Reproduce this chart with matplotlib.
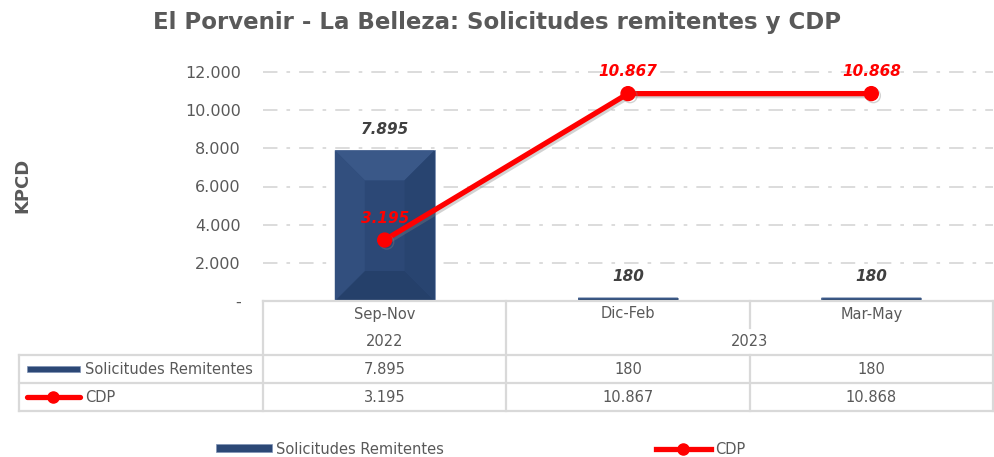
import numpy as np
import matplotlib
matplotlib.use("Agg")
import matplotlib.pyplot as plt
import matplotlib.patheffects as pe
from matplotlib.patches import Polygon, Rectangle
from matplotlib.lines import Line2D
from matplotlib.transforms import blended_transform_factory

# data
categories = ["Sep-Nov", "Dic-Feb", "Mar-May"]
years = ["2022", "2023"]
year_span = [(0, 0), (1, 2)]
solicitudes = [7895, 180, 180]
cdp = [3195, 10867, 10868]
yticks = [0, 2000, 4000, 6000, 8000, 10000, 12000]

W, H = 994, 457
gray = "#595959"
grid_c = "#D9D9D9"
navy = "#2C4876"
red = "#FF0000"

def fmt(v):
    return "-" if v == 0 else f"{v:,}".replace(",", ".")

def fx(px):
    return px / W

def fy(py):
    return 1 - py / H

plt.rcParams["font.family"] = ["DejaVu Sans"]
fig = plt.figure(figsize=(W / 100, H / 100), dpi=100)

# plot area: x 263..993 px, y 40..301 px
ax = fig.add_axes([fx(263), fy(301), fx(993 - 263), (301 - 40) / H])
ax.set_xlim(-0.5, 2.5)
ytop = 12000 * (301 - 40) / (301 - 72)
ax.set_ylim(0, ytop)
ax.set_yticks(yticks)
ax.set_yticklabels([fmt(v) for v in yticks], color=gray, fontsize=11.5)
ax.tick_params(axis="y", length=0, pad=16)
ax.set_xticks([])
for s in ax.spines.values():
    s.set_visible(False)
ax.grid(axis="y", color=grid_c, linestyle=(0, (8, 5, 2, 5)), linewidth=1.3)
ax.set_axisbelow(True)

x = np.arange(len(categories))
bw = 0.41

# bars with a soft bevel
dx = 3.0 / (993 - 263)          # data units per pixel
dy = ytop / (301 - 40)
ax.bar(x, solicitudes, width=bw, color=navy, edgecolor="#7F93B5",
       linewidth=0.6, zorder=2)
for xi, h in zip(x, solicitudes):
    l, r = xi - bw / 2, xi + bw / 2
    d = min(30, h / dy / 2)
    ddx, ddy = d * dx, d * dy
    ax.add_patch(Polygon([(l, h), (r, h), (r - ddx, h - ddy), (l + ddx, h - ddy)],
                         closed=True, color="#3A5888", lw=0, zorder=2.1))
    ax.add_patch(Polygon([(l, 0), (r, 0), (r - ddx, ddy), (l + ddx, ddy)],
                         closed=True, color="#25406A", lw=0, zorder=2.1))
    ax.add_patch(Polygon([(r, 0), (r, h), (r - ddx, h - ddy), (r - ddx, ddy)],
                         closed=True, color="#284470", lw=0, zorder=2.1))
    ax.add_patch(Polygon([(l, 0), (l, h), (l + ddx, h - ddy), (l + ddx, ddy)],
                         closed=True, color="#324F7E", lw=0, zorder=2.1))
    ax.annotate(fmt(h), (xi, h), xytext=(0, 21), textcoords="offset pixels",
                ha="center", va="center", fontsize=11, fontweight="bold",
                fontstyle="italic", color="#404040", zorder=5)

# CDP line
ax.plot(x, cdp, color=red, linewidth=3.8, marker="o", markersize=10,
        zorder=4, solid_capstyle="round",
        path_effects=[pe.SimpleLineShadow(offset=(1.5, -1.5), shadow_color="gray", alpha=0.35),
                      pe.Normal()])
for xi, v in zip(x, cdp):
    ax.annotate(fmt(v), (xi, v), xytext=(0, 22), textcoords="offset pixels",
                ha="center", va="center", fontsize=11, fontweight="bold",
                fontstyle="italic", color=red, zorder=5)

# title and axis label
fig.text(0.5, fy(22), "El Porvenir - La Belleza: Solicitudes remitentes y CDP",
         ha="center", va="center", fontsize=16.5, fontweight="bold", color=gray)
fig.text(fx(22), fy(185), "KPCD", rotation=90, ha="center", va="center",
         fontsize=13, fontweight="bold", color=gray)

# data table drawn under the axes
tr = blended_transform_factory(ax.transData, fig.transFigure)
bounds = [-0.5, 0.5, 1.5, 2.5]
y_top, y_mid, y_hdr, y_r1, y_bot = fy(301), fy(328), fy(355), fy(383), fy(411)

def hline(x0, x1, y, trans):
    fig.add_artist(Line2D([x0, x1], [y, y], transform=trans, color=grid_c, lw=1.6))

def vline(xv, y0, y1, trans):
    fig.add_artist(Line2D([xv, xv], [y0, y1], transform=trans, color=grid_c, lw=1.6))

hline(-0.5, 2.5, y_top, tr)
hline(fx(19), fx(993), y_hdr, fig.transFigure)
hline(fx(19), fx(993), y_r1, fig.transFigure)
hline(fx(19), fx(993), y_bot, fig.transFigure)
vline(fx(19), y_hdr, y_bot, fig.transFigure)
vline(fx(993), y_top, y_bot, fig.transFigure)
for b in bounds[:-1]:
    starts_year = any(b == s - 0.5 for s, _ in year_span)
    vline(b, y_top if starts_year else y_hdr, y_bot, tr)
    if not starts_year:
        vline(b, y_top, y_mid, tr)

for xi, c in zip(x, categories):
    fig.text(xi, fy(314), c, transform=tr, ha="center", va="center",
             fontsize=10.5, color=gray)
for yr, (s, e) in zip(years, year_span):
    fig.text((s + e) / 2, fy(341), yr, transform=tr, ha="center", va="center",
             fontsize=10.5, color=gray)
for xi, a, b in zip(x, solicitudes, cdp):
    fig.text(xi, fy(369), fmt(a), transform=tr, ha="center", va="center",
             fontsize=10.5, color=gray)
    fig.text(xi, fy(397), fmt(b), transform=tr, ha="center", va="center",
             fontsize=10.5, color=gray)

# table row keys
fig.add_artist(Rectangle((fx(27), fy(372)), fx(53), 6 / H, transform=fig.transFigure,
                         facecolor=navy, edgecolor="#7F93B5", lw=0.5))
fig.add_artist(Line2D([fx(27), fx(80)], [fy(397), fy(397)], transform=fig.transFigure,
                      color=red, lw=3.8, solid_capstyle="round"))
fig.add_artist(Line2D([fx(53)], [fy(397)], transform=fig.transFigure, color=red,
                      marker="o", markersize=8))
fig.text(fx(85), fy(369), "Solicitudes Remitentes", ha="left", va="center",
         fontsize=10.5, color=gray)
fig.text(fx(85), fy(397), "CDP", ha="left", va="center", fontsize=10.5, color=gray)

# bottom legend
h_bar = Rectangle((0, 0), 1, 1, facecolor=navy, edgecolor="#7F93B5", lw=0.5)
h_line = Line2D([], [], color=red, lw=3.8, marker="o", markersize=8)
fig.legend([h_bar, h_line], ["Solicitudes Remitentes", "CDP"], loc="center",
           bbox_to_anchor=(fx(481), fy(449)), ncol=2, frameon=False,
           fontsize=10.5, labelcolor=gray, handlelength=3.8, handleheight=0.45,
           handletextpad=0.3, columnspacing=14.5)

fig.savefig("out.png", dpi=100)
